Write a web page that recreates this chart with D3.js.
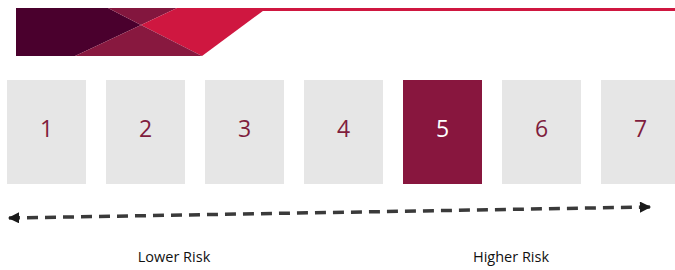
<!DOCTYPE html>
<html>
<head>
<meta charset="utf-8">
<script src="https://cdn.jsdelivr.net/npm/d3@7"></script>
<style>
    html, body { margin: 0; padding: 0; background: #fff; }
    svg { display: block; }
</style>
</head>
<body>
<div id="chart"></div>
<script>
// Risk scale data
const riskLevels = [1, 2, 3, 4, 5, 6, 7];
const currentLevel = 5;
const scaleLabels = ["Lower Risk", "Higher Risk"];

const width = 675;
const height = 270;

const svg = d3.select("#chart")
    .append("svg")
    .attr("width", width)
    .attr("height", height);

// Header banner (decorative)
const banner = svg.append("g");

banner.append("rect")
    .attr("x", 263)
    .attr("y", 8)
    .attr("width", width - 263)
    .attr("height", 3)
    .attr("fill", "#cf1740");

const bannerShapes = [
    { fill: "#4a002d", pts: [[16, 8], [108, 8], [141, 25], [75, 56], [16, 56]] },
    { fill: "#83163e", pts: [[108, 8], [177, 8], [141, 25]] },
    { fill: "#cf1740", pts: [[177, 8], [267, 8], [202, 56], [141, 25]] },
    { fill: "#88183f", pts: [[141, 25], [202, 56], [75, 56]] }
];

banner.selectAll("polygon")
    .data(bannerShapes)
    .enter()
    .append("polygon")
    .attr("points", d => d.pts.map(p => p.join(",")).join(" "))
    .attr("fill", d => d.fill);

// Risk boxes
const x = d3.scaleBand()
    .domain(riskLevels)
    .range([7, 680])
    .paddingInner(20 / 99)
    .paddingOuter(0);

const boxTop = 80;
const boxHeight = 104;

const boxes = svg.selectAll(".risk-box")
    .data(riskLevels)
    .enter()
    .append("g")
    .attr("class", "risk-box")
    .attr("transform", d => `translate(${x(d)}, ${boxTop})`);

boxes.append("rect")
    .attr("width", x.bandwidth())
    .attr("height", boxHeight)
    .attr("fill", d => d === currentLevel ? "#88163e" : "#e6e6e6");

boxes.append("text")
    .attr("x", x.bandwidth() / 2)
    .attr("y", 57)
    .attr("text-anchor", "middle")
    .style("font-family", "'Open Sans', sans-serif")
    .style("font-size", "23px")
    .attr("fill", d => d === currentLevel ? "#ffffff" : "#7f1d3d")
    .text(d => d);

// Dashed double-headed arrow
const defs = svg.append("defs");
["start", "end"].forEach(id => {
    defs.append("marker")
        .attr("id", `arrow-${id}`)
        .attr("viewBox", "0 0 10 10")
        .attr("refX", 9)
        .attr("refY", 5)
        .attr("markerWidth", 3.4)
        .attr("markerHeight", 3.2)
        .attr("orient", "auto-start-reverse")
        .append("path")
        .attr("d", "M0,0 L10,5 L0,10 Z")
        .attr("fill", "#1a1a1a");
});

svg.append("line")
    .attr("x1", 9)
    .attr("y1", 218)
    .attr("x2", 650)
    .attr("y2", 207)
    .attr("stroke", "#3a3a3a")
    .attr("stroke-width", 3.5)
    .attr("stroke-dasharray", "11 7")
    .attr("marker-start", "url(#arrow-start)")
    .attr("marker-end", "url(#arrow-end)");

// Labels
const labelX = [174, 511];
svg.selectAll(".scale-label")
    .data(scaleLabels)
    .enter()
    .append("text")
    .attr("class", "scale-label")
    .attr("x", (d, i) => labelX[i])
    .attr("y", 262)
    .attr("text-anchor", "middle")
    .style("font-family", "'Open Sans', sans-serif")
    .style("font-size", "14.5px")
    .attr("fill", "#111")
    .text(d => d);
</script>
</body>
</html>
